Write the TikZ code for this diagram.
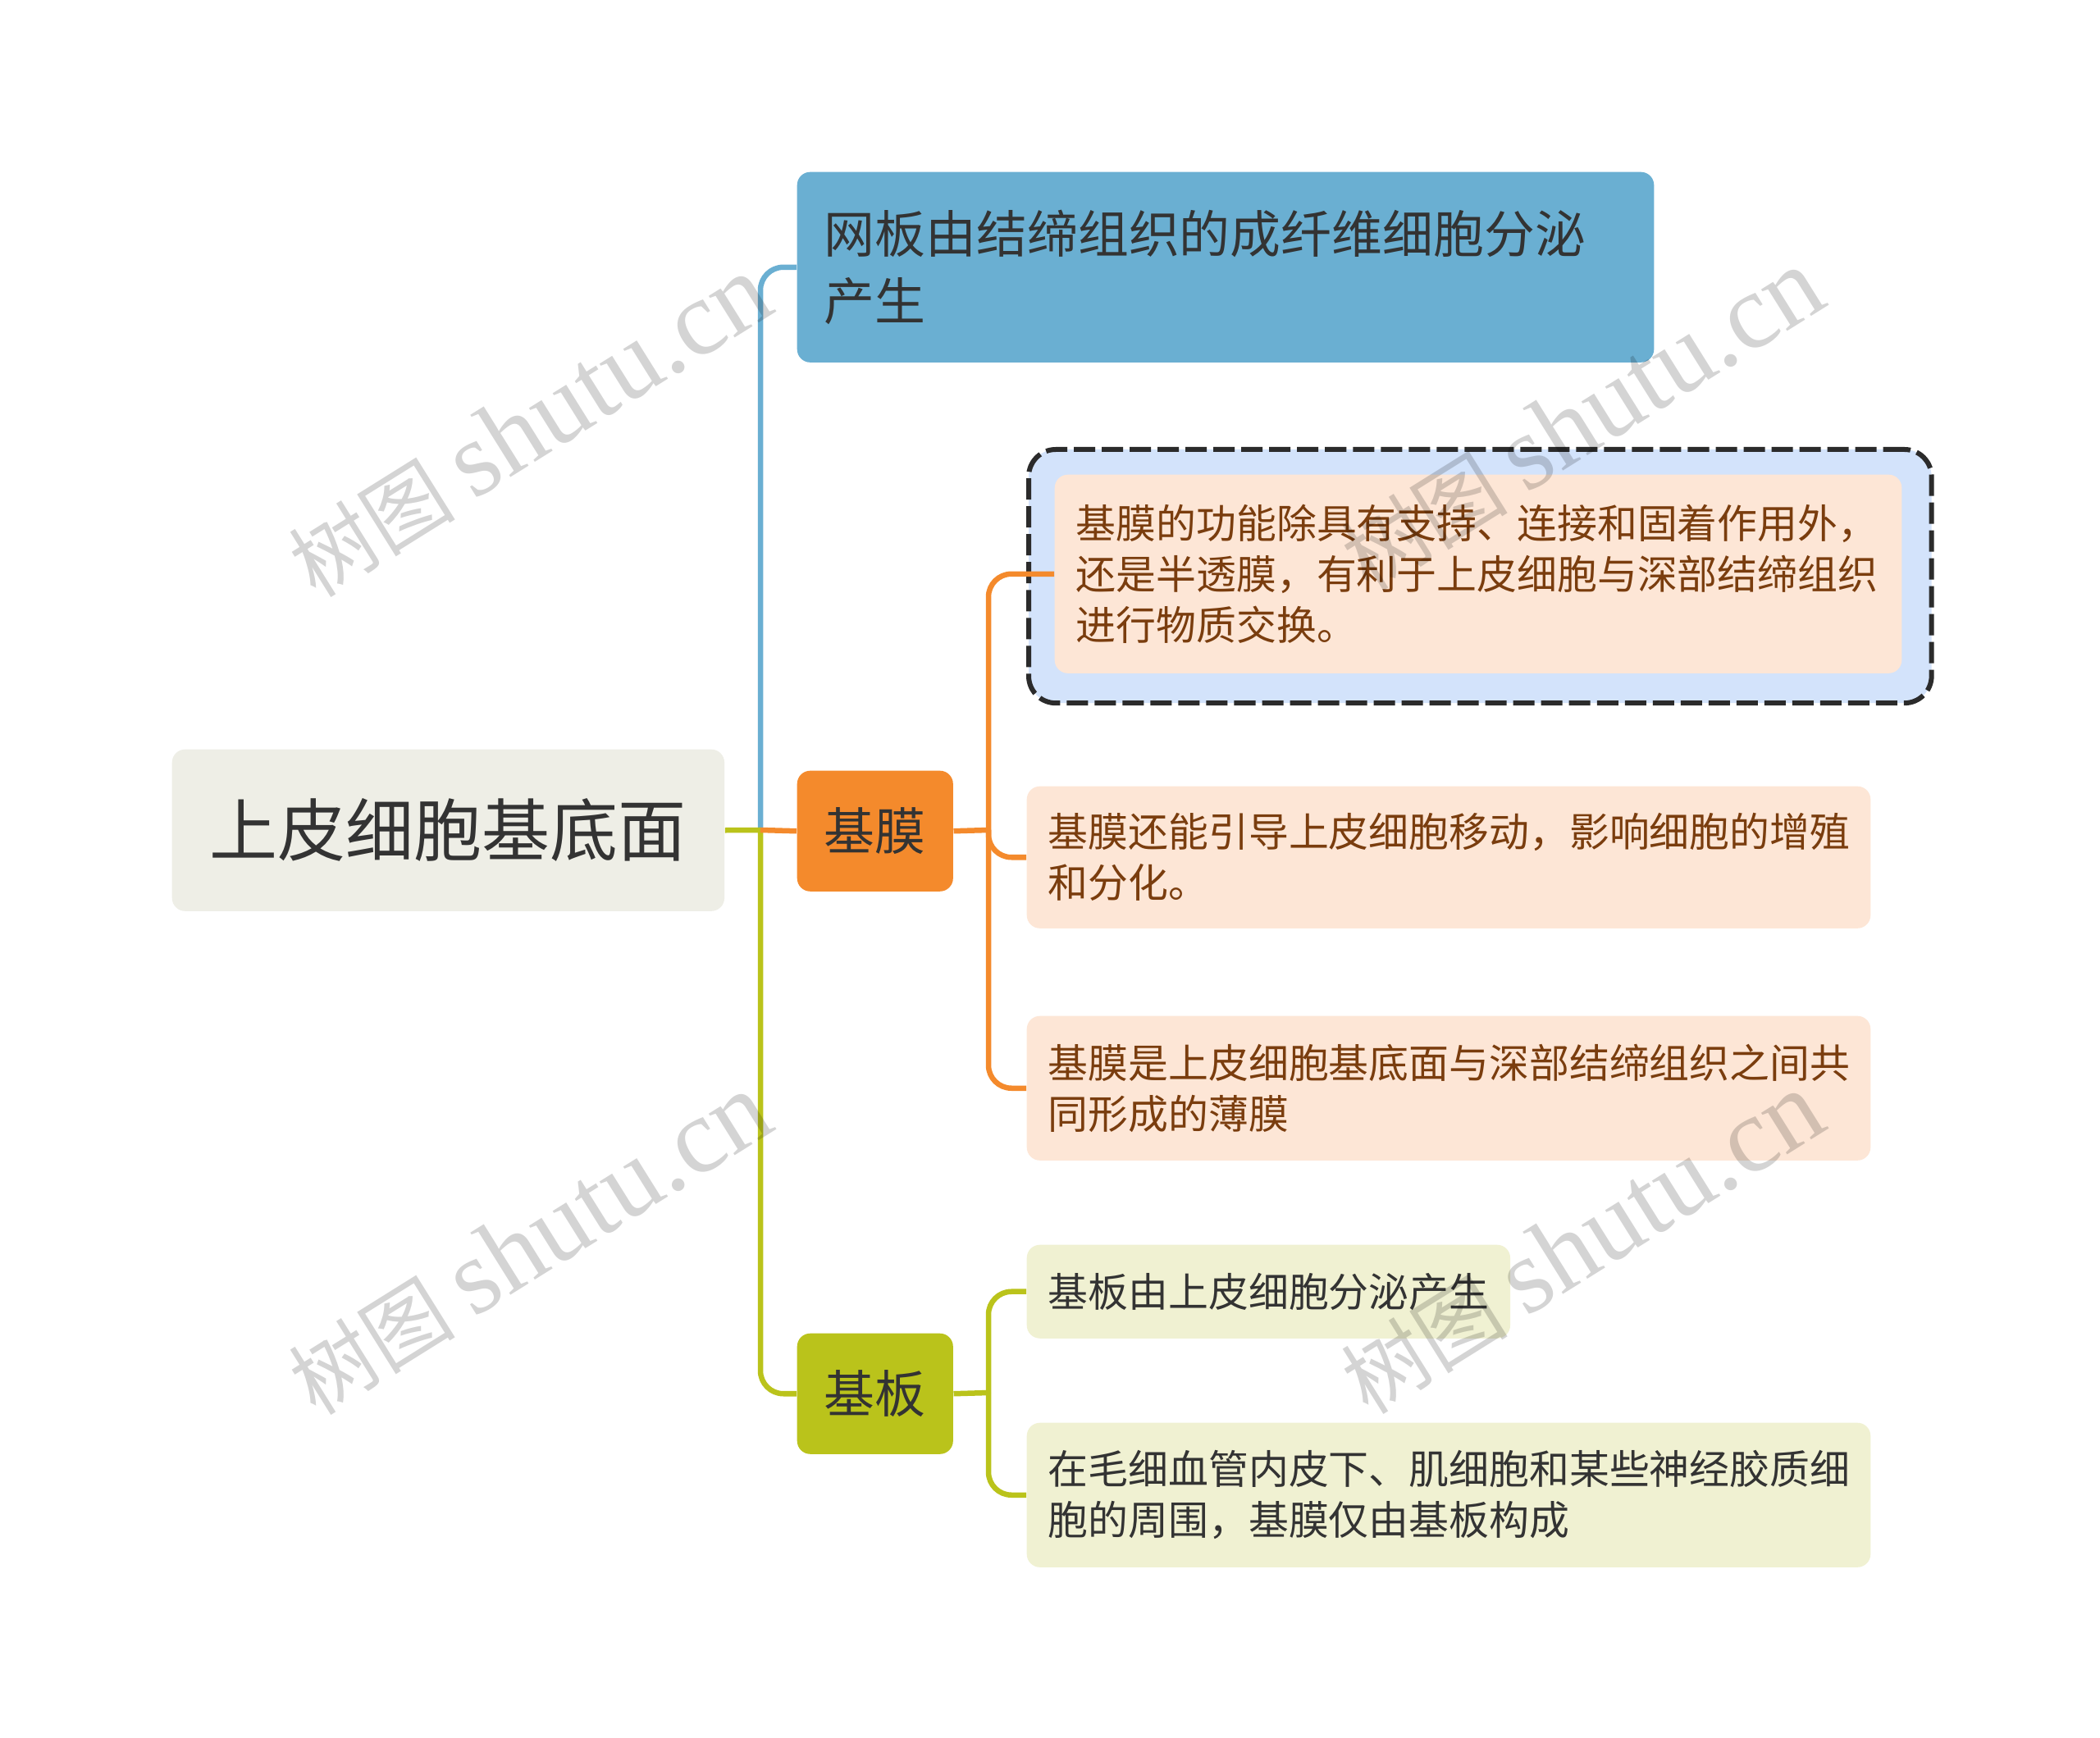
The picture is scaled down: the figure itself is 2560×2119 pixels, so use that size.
\documentclass[tikz,border=0pt]{standalone}
\usepackage{fontspec}
\setmainfont{Noto Sans CJK SC}
\newfontfamily\wmlatin{Liberation Serif}
\definecolor{rootfill}{HTML}{EEEEE6}
\definecolor{bluetopic}{HTML}{6AAFD2}
\definecolor{orangetopic}{HTML}{F48A2C}
\definecolor{greentopic}{HTML}{BAC31B}
\definecolor{peachfill}{HTML}{FDE6D6}
\definecolor{paleblue}{HTML}{D3E3FB}
\definecolor{palegreen}{HTML}{F0F1D2}
\definecolor{browntext}{HTML}{7A3D0E}
\definecolor{darktext}{HTML}{333333}
\tikzset{
  topic/.style={rounded corners=0.16cm, inner sep=0pt, anchor=north west},
  root topic/.style={topic, fill=rootfill, text=darktext,
    font=\fontsize{23.6pt}{28pt}\selectfont, minimum width=6.73cm, minimum height=1.97cm},
  main topic/.style={topic, fill=#1, text=darktext, font=\fontsize{17.6pt}{23.3pt}\selectfont},
  sub topic/.style={topic, fill=#1, inner xsep=0.26cm, align=left,
    font=\fontsize{13.9pt}{17.6pt}\selectfont},
  frame box/.style={topic, fill=paleblue, draw=darktext!85!black, line width=0.06cm,
    dash pattern=on 0.26cm off 0.08cm, rounded corners=0.33cm},
  branch/.style={line width=0.065cm, draw=#1, rounded corners=0.28cm},
  watermark/.style={text=black, opacity=0.17, rotate=32,
    font=\fontsize{29pt}{29pt}\selectfont},
}

\begin{document}
\begin{tikzpicture}[x=0.01cm, y=-0.01cm]
  \useasboundingbox[fill=white] (0,0) rectangle (2560,2119);
  \node[root topic] (root) at (209,913) {上皮细胞基底面};
  \node[main topic=bluetopic, inner xsep=0.33cm, text width=9.78cm, minimum height=2.32cm,
    align=left] (wangban) at (971,209) {网板由结缔组织的成纤维细胞分泌\\产生};
  \node[main topic=orangetopic, minimum width=1.9cm, minimum height=1.47cm] (jimo) at (971,939) {基膜};
  \node[main topic=greentopic, minimum width=1.9cm, minimum height=1.47cm] (jiban) at (971,1625) {基板};

  \node[frame box, minimum width=11cm, minimum height=3.09cm] (m1frame) at (1251,545) {};
  \node[sub topic=peachfill, text=browntext, text width=9.8cm, minimum height=2.42cm] (m1) at (1285,578)
    {基膜的功能除具有支持、连接和固着作用外，\\还是半透膜，有利于上皮细胞与深部结缔组织\\进行物质交换。};
  \node[sub topic=peachfill, text=browntext, text width=9.76cm, minimum height=1.73cm] (m2) at (1251,958)
    {基膜还能引导上皮细胞移动，影响细胞的增殖\\和分化。};
  \node[sub topic=peachfill, text=browntext, text width=9.76cm, minimum height=1.76cm] (m3) at (1251,1238)
    {基膜是上皮细胞基底面与深部结缔组织之间共\\同形成的薄膜};
  \node[sub topic=palegreen, text=darktext, text width=5.37cm, minimum height=1.14cm] (b1) at (1251,1517)
    {基板由上皮细胞分泌产生};
  \node[sub topic=palegreen, text=darktext, text width=9.76cm, minimum height=1.76cm] (b2) at (1251,1734)
    {在毛细血管内皮下、肌细胞和某些神经胶质细\\胞的周围，基膜仅由基板构成};

  \coordinate (trunk) at (927,1012);
  \coordinate (mbranch) at (1205,1012);
  \coordinate (bbranch) at (1205,1698);
  \draw[branch=bluetopic] (trunk) |- (wangban.west);
  \draw[branch=greentopic] (trunk) |- (jiban.west);
  \draw[branch=greentopic] (root.east) -- (trunk);
  \draw[branch=orangetopic] (trunk) -- (jimo.west);
  \draw[branch=orangetopic] (jimo.east) -- (mbranch);
  \foreach \n in {m1,m2,m3}{\draw[branch=orangetopic] (mbranch) |- (\n.west);}
  \draw[branch=greentopic] (jiban.east) -- (bbranch);
  \foreach \n in {b1,b2}{\draw[branch=greentopic] (bbranch) |- (\n.west);}

  % watermarks
  \foreach \p/\w in {{(645,520)}/wm1, {(1928,512)}/wm2, {(645,1517)}/wm3, {(1928,1516)}/wm4}
    {\node[watermark] (\w) at \p {树图 {\wmlatin\fontsize{37pt}{37pt}\selectfont shutu.cn}};}
\end{tikzpicture}
\end{document}
